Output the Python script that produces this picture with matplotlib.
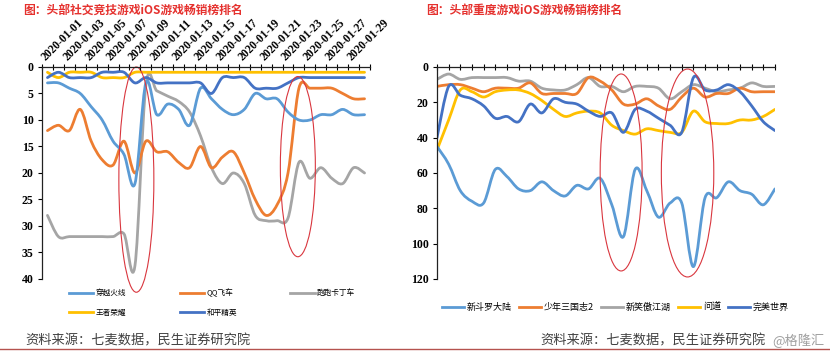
import numpy as np
import matplotlib
matplotlib.use('Agg')
from matplotlib import pyplot as plt
from matplotlib.path import Path
from matplotlib.patches import PathPatch, Ellipse
from matplotlib.lines import Line2D

plt.rcParams['font.family'] = ['Noto Sans CJK SC', 'DejaVu Sans']

# ---- data (rank) ----
dates = ['2020-01-%02d' % d for d in range(1, 31)]

left_names = ['穿越火线', 'QQ飞车', '跑跑卡丁车', '王者荣耀', '和平精英']
cf_rank = [3, 3, 4, 5, 7.5, 10, 14, 16.5, 22, 3, 9, 7, 8, 11, 4, 6, 8, 9, 8, 5,
           6, 6, 8.5, 10, 10, 9, 9, 8, 9, 9]
qq_rank = [12, 11, 12, 8, 14, 17.5, 18.5, 14, 20, 14, 16, 16, 18, 19, 15, 19, 17, 16, 20, 25,
           28, 26, 20, 4, 4, 4, 4, 5, 6, 6]
kart_rank = [28, 32, 32, 32, 32, 32, 32, 31.5, 37.5, 3.5, 4.5, 5.5, 6.5, 8.5, 13, 19, 22, 20, 22, 28,
             29, 29, 28.5, 18, 21, 19, 21, 22, 19, 20]
wzry_rank = [1, 2, 1, 1, 1, 2, 2, 2, 1, 1, 1, 1, 1, 1, 1, 1, 1, 1, 1, 1,
             1, 1, 1, 1, 1, 1, 1, 1, 1, 1]
hpjy_rank = [2, 1, 2, 2, 2, 1, 1, 1, 3, 2, 3, 3, 3, 3, 3, 5, 2, 2, 2, 4,
             4, 4, 3, 2, 2, 2, 2, 2, 2, 2]

right_names = ['新斗罗大陆', '少年三国志2', '新笑傲江湖', '问道', '完美世界']
dldl_rank = [45, 55, 70, 76, 77, 58, 62, 69, 70, 65, 70, 73, 67, 69, 63, 78, 96, 58, 70, 85,
             77, 77, 113, 74, 74, 65, 70, 72, 78, 69]
sg_rank = [11, 10, 10, 12, 14, 12, 12, 12, 9, 15, 15, 15, 15, 6, 8, 13, 21, 21, 18, 22,
           24, 17, 12, 17, 15, 15, 12, 14, 14, 14]
xajh_rank = [7, 4, 7, 6, 6, 6, 6, 8, 8, 12, 13, 13, 10, 6, 11, 11, 14, 11, 11, 12,
             18, 14, 10, 12, 14, 13, 12, 9, 11, 11]
wd_rank = [47, 30, 13, 14, 17, 14, 13, 13, 15, 19, 24, 28, 26, 25, 26, 33, 36, 38, 35, 36,
           37, 37, 25, 31, 32, 32, 30, 30, 28, 24]
wmsj_rank = [40, 11, 16, 18, 22, 29, 28, 31, 21, 26, 18, 20, 21, 25, 28, 26, 37, 24, 25, 29,
             33, 37, 6, 13, 13, 10, 14, 22, 31, 36]

colors = ['#5B9BD5', '#ED7D31', '#A5A5A5', '#FFC000', '#4472C4']
serif = 'Liberation Serif'


def smooth_path(x, y):
    # Excel style smoothed line: cubic bezier through the points
    pts = np.column_stack([x, y]).astype(float)
    n = len(pts)
    verts = [pts[0]]
    codes = [Path.MOVETO]
    for i in range(n - 1):
        p0 = pts[i - 1] if i > 0 else pts[i]
        p1, p2 = pts[i], pts[i + 1]
        p3 = pts[i + 2] if i + 2 < n else pts[i + 1]
        verts += [p1 + (p2 - p0) / 6, p2 - (p3 - p1) / 6, p2]
        codes += [Path.CURVE4] * 3
    return Path(verts, codes)


def style_axes(ax, ymax, ystep, between):
    ax.set_ylim(ymax, 0)
    n = len(dates)
    if between:
        ax.set_xlim(-0.5, n - 0.5)
        ax.set_xticks(np.arange(n + 1) - 0.5)
    else:
        ax.set_xlim(0, n - 1)
        ax.set_xticks(np.arange(n))
    ax.set_xticks(np.arange(0, n, 2), minor=True)
    ax.set_xticklabels([])
    ax.set_xticklabels([dates[i] for i in range(0, n, 2)], minor=True)
    ax.xaxis.tick_top()
    ax.tick_params(axis='x', which='major', direction='inout', length=5, width=0.8)
    ax.tick_params(axis='x', which='minor', length=0, pad=3)
    for lab in ax.get_xticklabels(minor=True):
        lab.set_rotation(45)
        lab.set_rotation_mode('anchor')
        lab.set_ha('left')
        lab.set_va('bottom')
        lab.set_fontfamily(serif)
        lab.set_fontweight('bold')
        lab.set_fontsize(8.3)
    ax.set_yticks(np.arange(0, ymax + 1, ystep))
    ax.tick_params(axis='y', direction='out', length=3, width=0.8, pad=3)
    for lab in ax.get_yticklabels():
        lab.set_fontfamily(serif)
        lab.set_fontweight('bold')
        lab.set_fontsize(8.5)
    for s in ['right', 'bottom']:
        ax.spines[s].set_visible(False)
    for s in ['left', 'top']:
        ax.spines[s].set_linewidth(0.9)
        ax.spines[s].set_color('#222222')
    ax.set_facecolor('none')


fig = plt.figure(figsize=(8.3, 3.55), dpi=100)

# ---- left chart ----
axl = fig.add_axes([0.0506, 0.2141, 0.3952, 0.5972])
x = np.arange(len(dates))
left_series = [cf_rank, qq_rank, kart_rank, wzry_rank, hpjy_rank]
# draw order: gray, orange, light blue, yellow, dark blue
for k in [2, 1, 0, 3, 4]:
    axl.add_patch(PathPatch(smooth_path(x, left_series[k]), fill=False,
                            edgecolor=colors[k], lw=2.0, capstyle='round', joinstyle='round'))
style_axes(axl, 40, 5, between=True)
for cx, cy, w, h in [(8.13, 21.25, 3.2, 42.5), (22.9, 18.8, 3.2, 34)]:
    axl.add_patch(Ellipse((cx, cy), w, h, fill=False, edgecolor='#D9363E', lw=0.8, clip_on=False))

# legend fills column by column, so order entries to read row by row
order = [0, 3, 1, 4, 2]
hl = [Line2D([], [], color=colors[k], lw=2) for k in order]
axl.legend(hl, [left_names[k] for k in order], ncol=3, frameon=False, fontsize=5.5,
           loc='upper left', bbox_to_anchor=(0.083, 0.187), bbox_transform=fig.transFigure,
           handlelength=3.2, handletextpad=0.3, columnspacing=7.0, labelspacing=1.5,
           borderpad=0, borderaxespad=0)

# ---- right chart ----
axr = fig.add_axes([0.5265, 0.2141, 0.4072, 0.5972])
right_series = [dldl_rank, sg_rank, xajh_rank, wd_rank, wmsj_rank]
for k in [2, 1, 3, 4, 0]:
    axr.add_patch(PathPatch(smooth_path(x, right_series[k]), fill=False,
                            edgecolor=colors[k], lw=2.0, capstyle='round', joinstyle='round'))
style_axes(axr, 120, 20, between=False)
for cx, cy, w, h in [(15.8, 59.7, 3.6, 111.5), (21.5, 60, 4.5, 117.7)]:
    axr.add_patch(Ellipse((cx, cy), w, h, fill=False, edgecolor='#D9363E', lw=0.8, clip_on=False))

hr = [Line2D([], [], color=c, lw=2) for c in colors]
axr.legend(hr, right_names, ncol=5, frameon=False, fontsize=6.5,
           loc='center left', bbox_to_anchor=(0.532, 0.135), bbox_transform=fig.transFigure,
           handlelength=2.5, handletextpad=0.25, columnspacing=0.8,
           borderpad=0, borderaxespad=0)

# ---- titles and footer ----
fig.text(0.028, 0.972, '图：头部社交竞技游戏iOS游戏畅销榜排名', color='#E5312E',
         fontsize=8.5, fontweight='bold', ha='left', va='center')
fig.text(0.514, 0.972, '图：头部重度游戏iOS游戏畅销榜排名', color='#E5312E',
         fontsize=8.5, fontweight='bold', ha='left', va='center')
fig.text(0.03, 0.04, '资料来源：七麦数据，民生证券研究院', color='#404040',
         fontsize=9.5, ha='left', va='center')
fig.text(0.651, 0.04, '资料来源：七麦数据，民生证券研究院', color='#404040',
         fontsize=9.5, ha='left', va='center')
fig.text(0.931, 0.04, '@格隆汇', color='#A0A0A0', fontsize=9.5, ha='left', va='center')
fig.add_artist(Line2D([0, 1], [0.017, 0.017], transform=fig.transFigure,
                      color='#B5524E', lw=1.0))

fig.savefig('out.png', dpi=100)
